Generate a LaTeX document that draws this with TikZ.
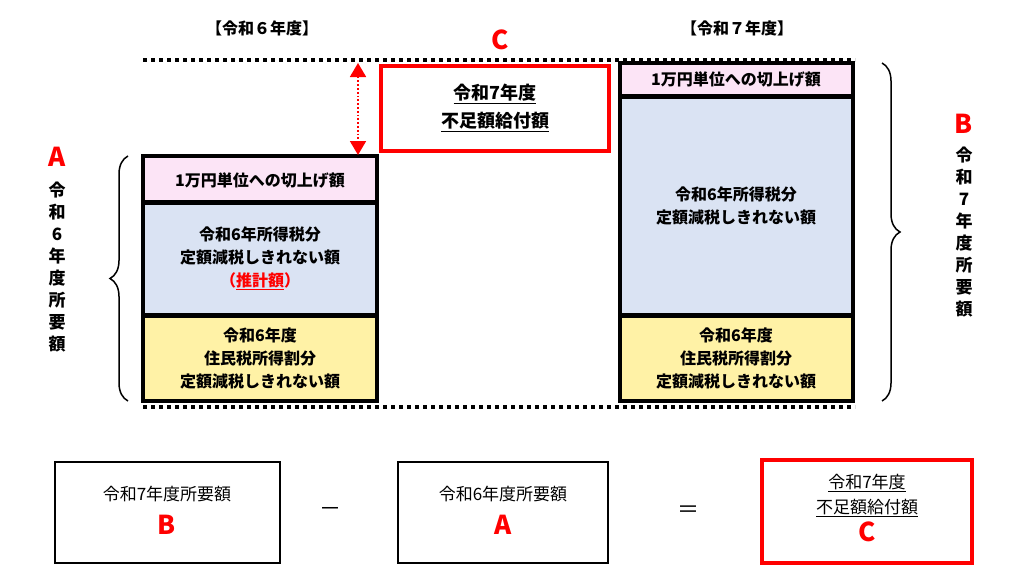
\documentclass[tikz,border=0pt]{standalone}
\usepackage{fontspec}
\setmainfont{Noto Sans CJK JP}
\usetikzlibrary{arrows.meta,decorations.pathreplacing}
\definecolor{cpink}{HTML}{FCE4F6}
\definecolor{cblue}{HTML}{DAE3F3}
\definecolor{cyel}{HTML}{FFF2A6}
\tikzset{
  seg/.style={draw=black, line width=3.5pt},
  txt/.style={align=center, font=\bfseries\fontsize{16}{23}\selectfont},
  rbox/.style={draw=red, line width=4pt},
  fbox/.style={draw=black, line width=2pt},
  dots/.style={line width=4pt, dash pattern=on 4pt off 4pt},
  brace/.style={decorate, decoration={brace, amplitude=18pt}, line width=1.5pt},
  vlab/.style={align=center, font=\bfseries\fontsize{17}{22}\selectfont},
  big/.style={red, font=\bfseries\fontsize{26}{26}\selectfont},
  plain/.style={align=center, font=\fontsize{17}{34}\selectfont}
}
\begin{document}
\begin{tikzpicture}[x=1pt,y=-1pt]
  \useasboundingbox (0,0) rectangle (1032,586);
  % left column
  \draw[seg, fill=cpink] (143,156) rectangle (377,202);
  \draw[seg, fill=cblue] (143,203) rectangle (377,315);
  \draw[seg, fill=cyel] (143,316) rectangle (377,401);
  \node (l1) [txt] at (260,180) {1万円単位への切上げ額};
  \node (l2) [txt] at (260,258) {令和6年所得税分\\定額減税しきれない額\\{\color{red}（\underline{推計額}）}};
  \node (l3) [txt] at (260,358) {令和6年度\\住民税所得割分\\定額減税しきれない額};
  % right column
  \draw[seg, fill=cpink] (620,63) rectangle (853,96);
  \draw[seg, fill=cblue] (620,97) rectangle (853,315);
  \draw[seg, fill=cyel] (620,316) rectangle (853,401);
  \node (r1) [txt] at (736,79) {1万円単位への切上げ額};
  \node (r2) [txt] at (736,206) {令和6年所得税分\\定額減税しきれない額};
  \node (r3) [txt] at (736,358) {令和6年度\\住民税所得割分\\定額減税しきれない額};
  % dotted lines
  \coordinate (tl) at (143,60); \coordinate (tr) at (855,60);
  \coordinate (bl) at (143,407); \coordinate (br) at (855,407);
  \draw[dots] (tl) -- (tr);
  \draw[dots] (bl) -- (br);
  % C box
  \draw[rbox] (381,66) rectangle (609,151);
  \node (cc) [txt, font=\bfseries\fontsize{18}{28}\selectfont] at (495,108) {\underline{令和7年度}\\\underline{不足額給付額}};
  \node (ct) [big] at (500,40) {C};
  \coordinate (ua) at (358,63); \coordinate (ub) at (358,155);
  \draw[red, line width=1.8pt, dotted, {Triangle[width=16pt,length=14pt]}-{Triangle[width=16pt,length=14pt]}] (ua) -- (ub);
  % headers
  \node (h6) [txt] at (262,28) {【令和６年度】};
  \node (h7) [txt] at (737,28) {【令和７年度】};
  % braces
  \coordinate (lb1) at (128,401); \coordinate (lb2) at (128,156);
  \draw[brace] (lb1) -- (lb2);
  \coordinate (rb1) at (882,63); \coordinate (rb2) at (882,401);
  \draw[brace] (rb1) -- (rb2);
  \node (la) [big] at (57,157) {A};
  \node (lv) [vlab, anchor=north] at (57,178) {令\\和\\6\\年\\度\\所\\要\\額};
  \node (rb) [big] at (964,124) {B};
  \node (rv) [vlab, anchor=north] at (964,143) {令\\和\\7\\年\\度\\所\\要\\額};
  % formula
  \draw[fbox] (55,462) rectangle (280,563);
  \node (fb) [plain] at (167,510) {令和7年度所要額\\{\color{red}\bfseries\fontsize{26}{26}\selectfont B}};
  \node (minus) [font=\fontsize{22}{22}\selectfont] at (330,512) {－};
  \draw[fbox] (398,462) rectangle (608,563);
  \node (fa) [plain] at (503,510) {令和6年度所要額\\{\color{red}\bfseries\fontsize{26}{26}\selectfont A}};
  \node (eq) [font=\fontsize{22}{22}\selectfont] at (688,512) {＝};
  \draw[rbox] (762,460) rectangle (972,563);
  \node (fc) [align=center, font=\fontsize{17}{25}\selectfont] at (867,508) {\underline{令和7年度}\\\underline{不足額給付額}\\[3pt]{\color{red}\bfseries\fontsize{26}{26}\selectfont C}};
\end{tikzpicture}
\end{document}
